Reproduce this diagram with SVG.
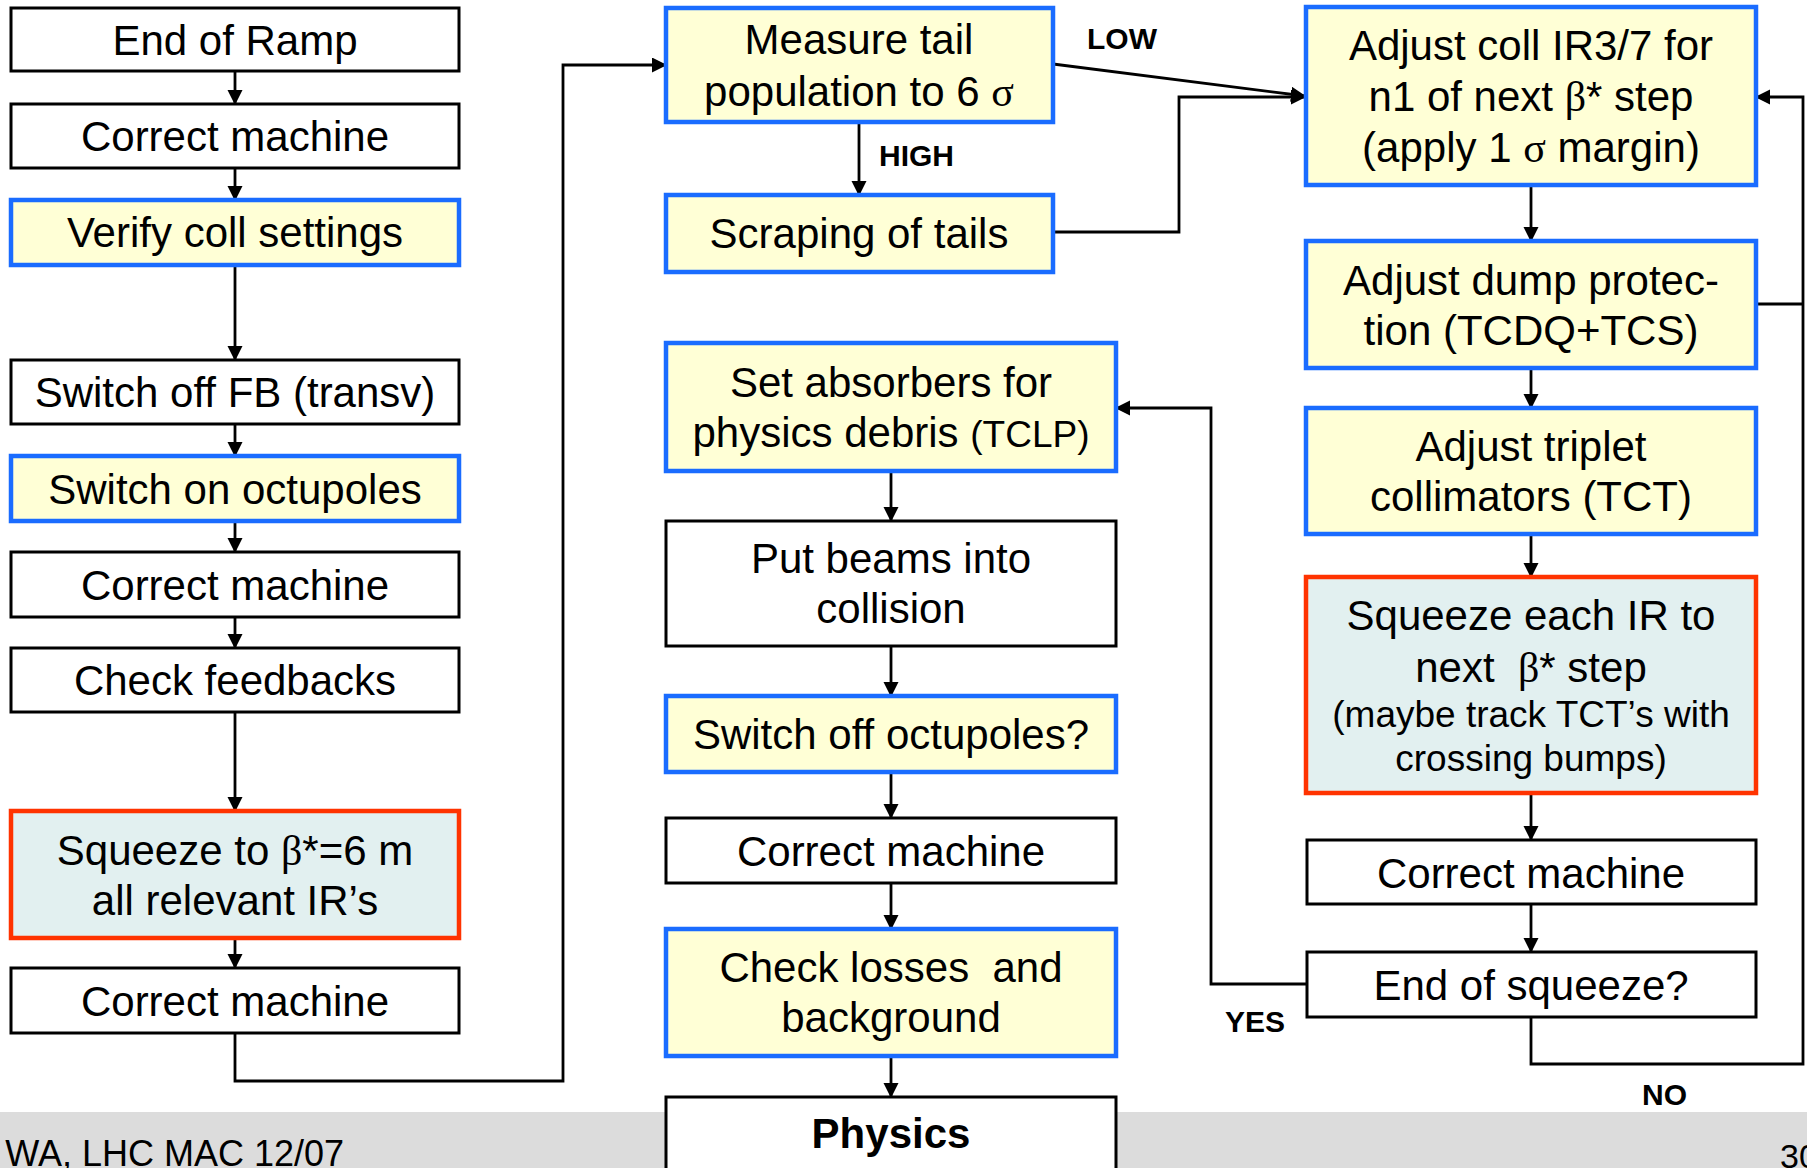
<svg xmlns="http://www.w3.org/2000/svg" width="1807" height="1168" viewBox="0 0 1807 1168">
<style>
.w{fill:#ffffff;stroke:#000000;stroke-width:3}
.y{fill:#ffffd6;stroke:#1a6cff;stroke-width:4.5}
.r{fill:#e2f0f0;stroke:#ff3300;stroke-width:4.5}
text{font-family:"Liberation Sans",Arial,sans-serif;font-size:42px;fill:#000;text-anchor:middle}
.lbl{font-weight:bold;font-size:30px;text-anchor:start}
.g{font-family:"Liberation Serif","DejaVu Serif",serif}
.c{fill:none;stroke:#000;stroke-width:2.8}
</style>
<defs>
<marker id="ah" markerUnits="userSpaceOnUse" markerWidth="15" markerHeight="16" refX="14" refY="7.5" orient="auto">
<path d="M0,0 L15,7.5 L0,15 Z" fill="#000"/>
</marker>
</defs>
<rect x="0" y="0" width="1807" height="1168" fill="#ffffff"/>
<rect x="0" y="1112" width="1807" height="56" fill="#dcdcdc"/>
<text x="344" y="1166" style="font-size:36px;text-anchor:end">WA, LHC MAC 12/07</text>
<text x="1780" y="1168" style="font-size:34px;text-anchor:start">30</text>

<g id="connectors">
<path class="c" d="M235,71 V104" marker-end="url(#ah)"/>
<path class="c" d="M235,168 V200" marker-end="url(#ah)"/>
<path class="c" d="M235,265 V360" marker-end="url(#ah)"/>
<path class="c" d="M235,424 V456" marker-end="url(#ah)"/>
<path class="c" d="M235,521 V552" marker-end="url(#ah)"/>
<path class="c" d="M235,617 V648" marker-end="url(#ah)"/>
<path class="c" d="M235,712 V811" marker-end="url(#ah)"/>
<path class="c" d="M235,938 V968" marker-end="url(#ah)"/>
<path class="c" d="M235,1033 V1081 H563 V65 H666" marker-end="url(#ah)"/>
<path class="c" d="M859,122 V195" marker-end="url(#ah)"/>
<path class="c" d="M1053,64 L1305,96" marker-end="url(#ah)"/>
<path class="c" d="M1053,232 H1179 V97 H1305" marker-end="url(#ah)"/>
<path class="c" d="M891,471 V521" marker-end="url(#ah)"/>
<path class="c" d="M891,646 V696" marker-end="url(#ah)"/>
<path class="c" d="M891,772 V818" marker-end="url(#ah)"/>
<path class="c" d="M891,883 V929" marker-end="url(#ah)"/>
<path class="c" d="M891,1056 V1097" marker-end="url(#ah)"/>
<path class="c" d="M1531,185 V241" marker-end="url(#ah)"/>
<path class="c" d="M1531,368 V408" marker-end="url(#ah)"/>
<path class="c" d="M1531,534 V577" marker-end="url(#ah)"/>
<path class="c" d="M1531,793 V840" marker-end="url(#ah)"/>
<path class="c" d="M1531,904 V952" marker-end="url(#ah)"/>
<path class="c" d="M1531,1017 V1064 H1803 V97 H1756" marker-end="url(#ah)"/>
<path class="c" d="M1756,304 H1803"/>
<path class="c" d="M1307,984 H1211 V408 H1116" marker-end="url(#ah)"/>
<text class="lbl" x="1087" y="49">LOW</text>
<text class="lbl" x="879" y="166">HIGH</text>
<text class="lbl" x="1225" y="1032">YES</text>
<text class="lbl" x="1642" y="1105">NO</text>
</g>

<g id="end-of-ramp"><rect class="w" x="11" y="8" width="448" height="63"/><text x="235" y="55">End of Ramp</text></g>
<g id="correct-machine-1"><rect class="w" x="11" y="104" width="448" height="64"/><text x="235" y="151">Correct machine</text></g>
<g id="verify-coll"><rect class="y" x="11" y="200" width="448" height="65"/><text x="235" y="247">Verify coll settings</text></g>
<g id="switch-off-fb"><rect class="w" x="11" y="360" width="448" height="64"/><text x="235" y="407">Switch off FB (transv)</text></g>
<g id="switch-on-oct"><rect class="y" x="11" y="456" width="448" height="65"/><text x="235" y="504">Switch on octupoles</text></g>
<g id="correct-machine-2"><rect class="w" x="11" y="552" width="448" height="65"/><text x="235" y="600">Correct machine</text></g>
<g id="check-feedbacks"><rect class="w" x="11" y="648" width="448" height="64"/><text x="235" y="695">Check feedbacks</text></g>
<g id="squeeze-6m"><rect class="r" x="11" y="811" width="448" height="127"/><text x="235" y="865">Squeeze to <tspan class="g">β</tspan>*=6 m</text><text x="235" y="915">all relevant IR’s</text></g>
<g id="correct-machine-3"><rect class="w" x="11" y="968" width="448" height="65"/><text x="235" y="1016">Correct machine</text></g>

<g id="measure-tail"><rect class="y" x="666" y="8" width="387" height="114"/><text x="859" y="54">Measure tail</text><text x="859" y="106">population to 6 <tspan class="g">σ</tspan></text></g>
<g id="scraping"><rect class="y" x="666" y="195" width="387" height="77"/><text x="859" y="248">Scraping of tails</text></g>
<g id="set-absorbers"><rect class="y" x="666" y="343" width="450" height="128"/><text x="891" y="397">Set absorbers for</text><text x="891" y="447">physics debris <tspan style="font-size:37px">(TCLP)</tspan></text></g>
<g id="put-beams"><rect class="w" x="666" y="521" width="450" height="125"/><text x="891" y="573">Put beams into</text><text x="891" y="623">collision</text></g>
<g id="switch-off-oct"><rect class="y" x="666" y="696" width="450" height="76"/><text x="891" y="749">Switch off octupoles?</text></g>
<g id="correct-machine-4"><rect class="w" x="666" y="818" width="450" height="65"/><text x="891" y="866">Correct machine</text></g>
<g id="check-losses"><rect class="y" x="666" y="929" width="450" height="127"/><text x="891" y="982" xml:space="preserve">Check losses  and</text><text x="891" y="1032">background</text></g>
<g id="physics"><rect class="w" x="666" y="1097" width="450" height="90"/><text x="891" y="1148" style="font-weight:bold">Physics</text></g>

<g id="adjust-coll"><rect class="y" x="1306" y="7" width="450" height="178"/><text x="1531" y="60">Adjust coll IR3/7 for</text><text x="1531" y="111">n1 of next <tspan class="g">β</tspan>* step</text><text x="1531" y="162">(apply 1 <tspan class="g">σ</tspan> margin)</text></g>
<g id="adjust-dump"><rect class="y" x="1306" y="241" width="450" height="127"/><text x="1531" y="295">Adjust dump protec-</text><text x="1531" y="345">tion (TCDQ+TCS)</text></g>
<g id="adjust-triplet"><rect class="y" x="1306" y="408" width="450" height="126"/><text x="1531" y="461">Adjust triplet</text><text x="1531" y="511">collimators (TCT)</text></g>
<g id="squeeze-each"><rect class="r" x="1306" y="577" width="450" height="216"/><text x="1531" y="630">Squeeze each IR to</text><text x="1531" y="682" xml:space="preserve">next  <tspan class="g">β</tspan>* step</text><text x="1531" y="727" style="font-size:37px">(maybe track TCT’s with</text><text x="1531" y="771" style="font-size:37px">crossing bumps)</text></g>
<g id="correct-machine-5"><rect class="w" x="1307" y="840" width="449" height="64"/><text x="1531" y="888">Correct machine</text></g>
<g id="end-of-squeeze"><rect class="w" x="1307" y="952" width="449" height="65"/><text x="1531" y="1000">End of squeeze?</text></g>
</svg>
